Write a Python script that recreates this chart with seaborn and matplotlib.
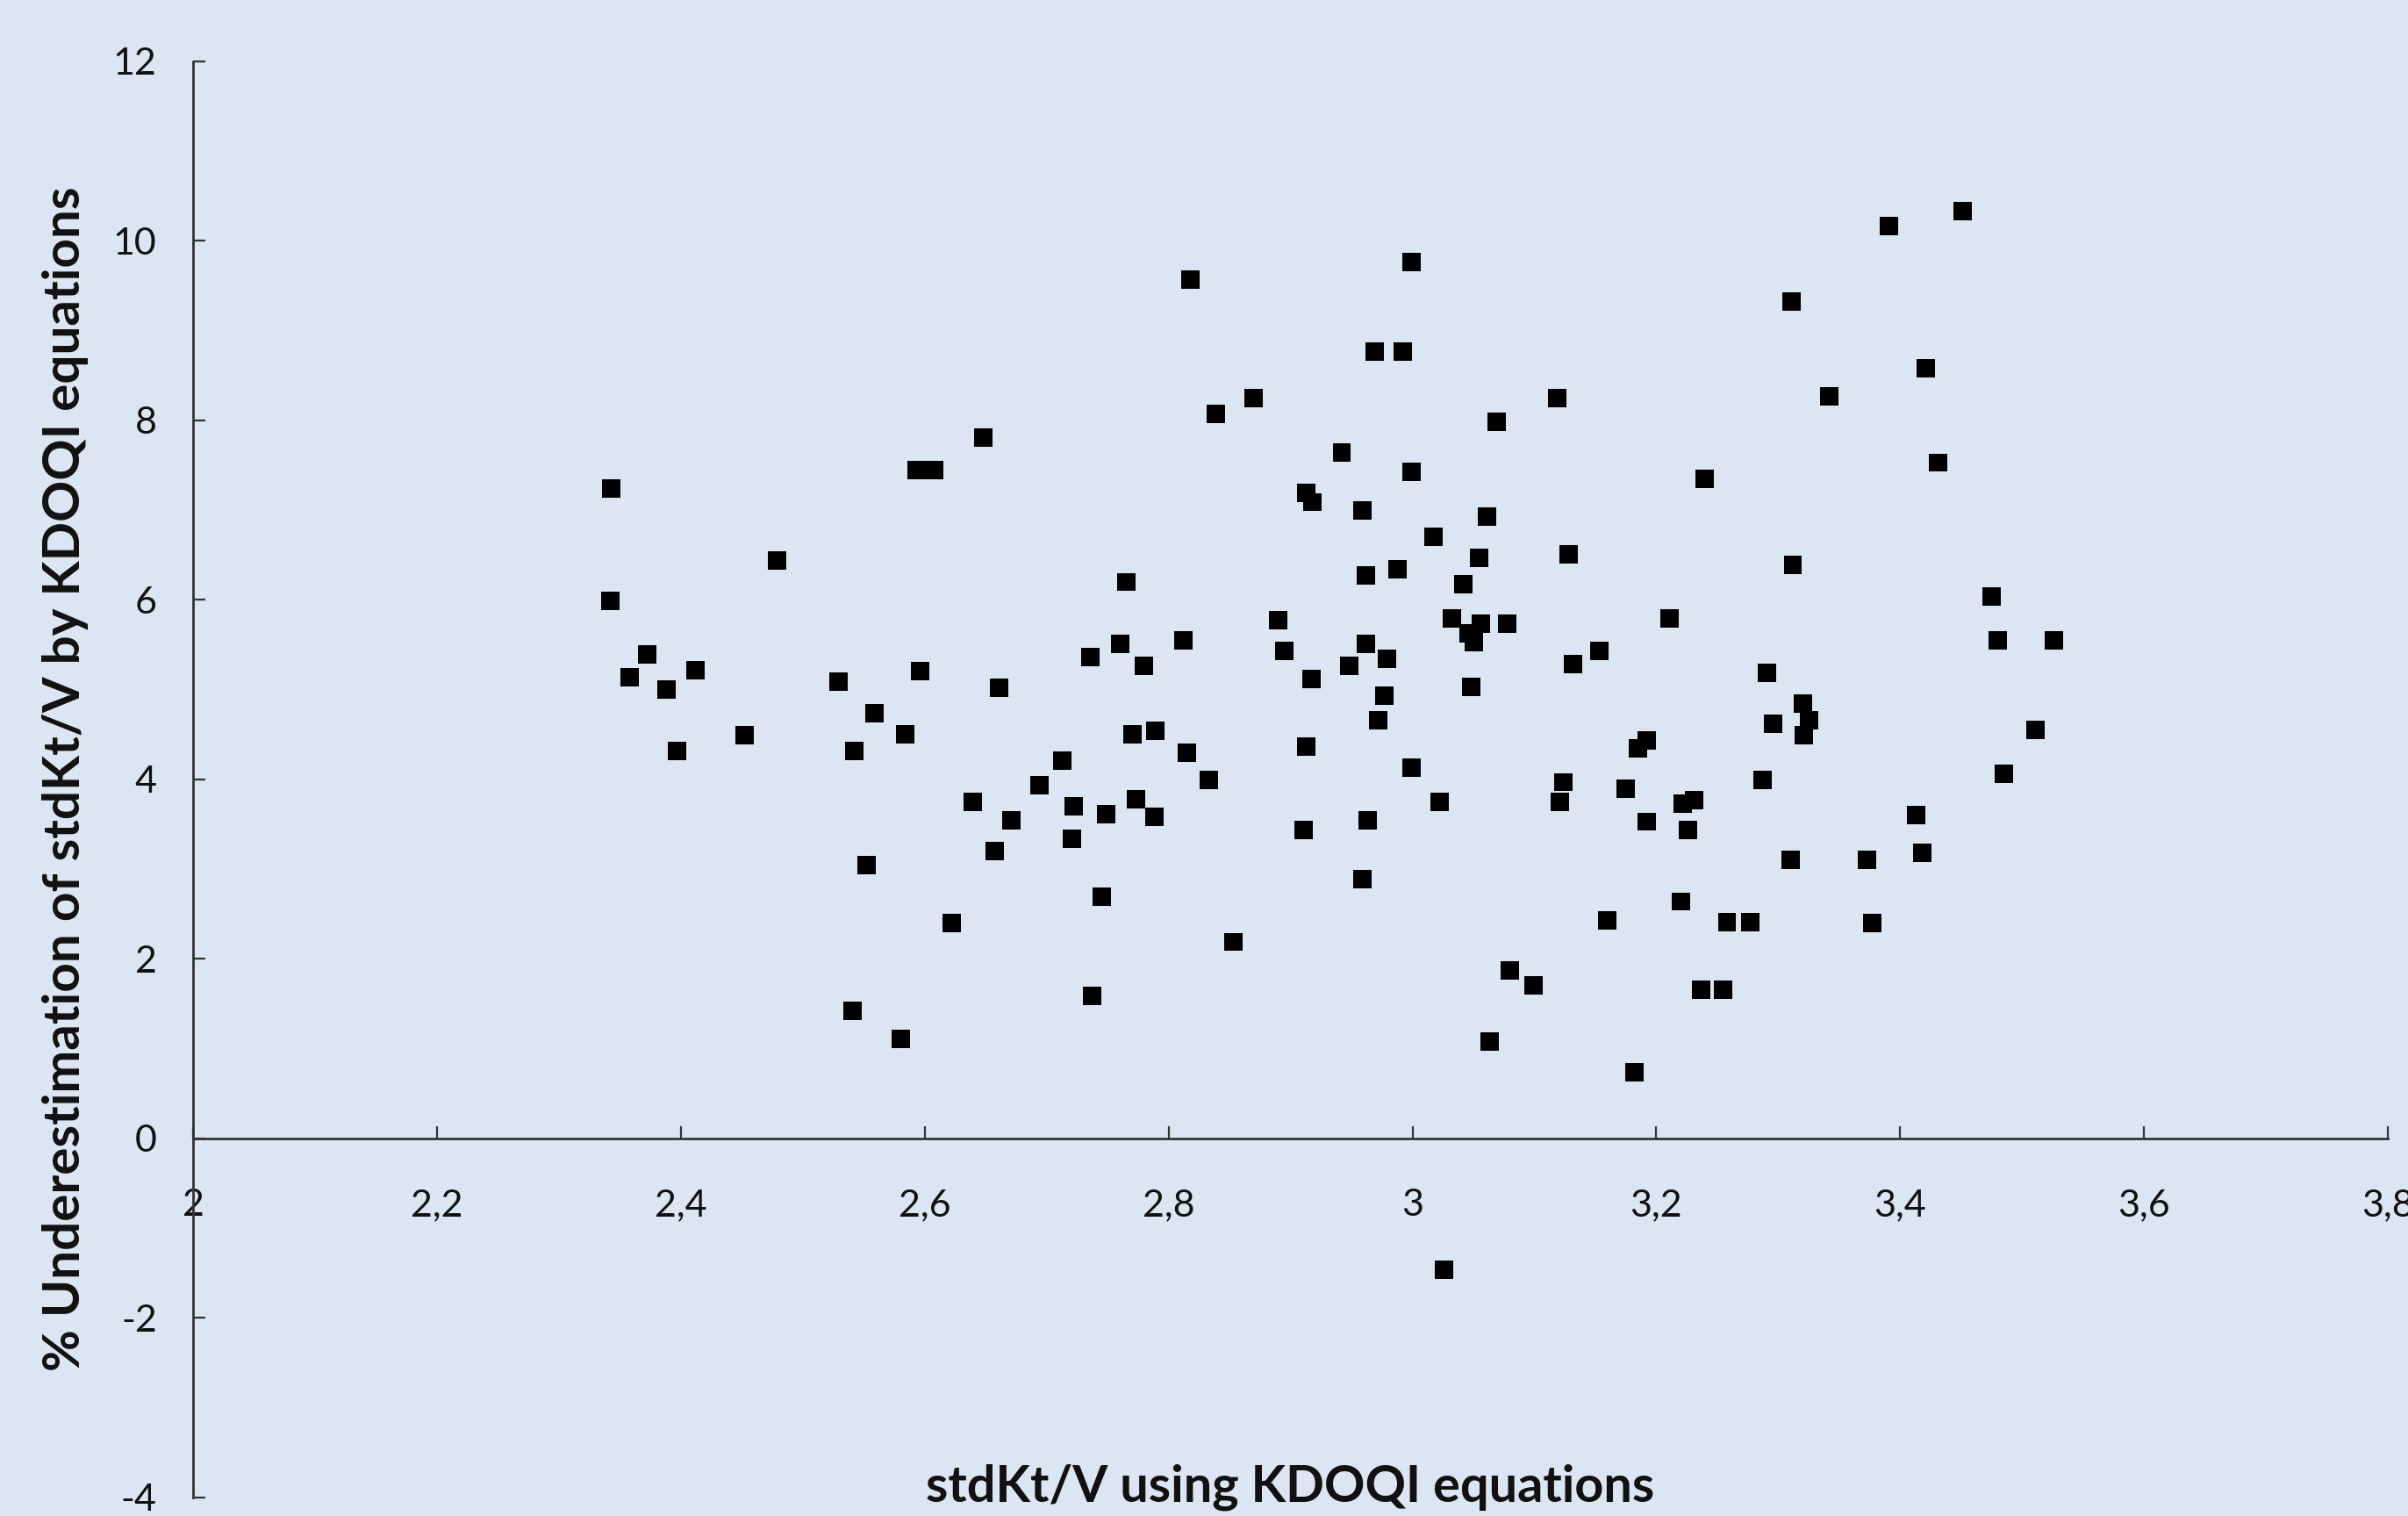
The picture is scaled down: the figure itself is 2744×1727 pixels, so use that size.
import numpy as np
import matplotlib.pyplot as plt
import seaborn as sns
from matplotlib.ticker import FuncFormatter

# values
stdktv = [2.343, 2.342, 2.358, 2.372, 2.388, 2.397, 2.412, 2.452, 2.479, 2.529,
          2.542, 2.541, 2.552, 2.559, 2.580, 2.584, 2.593, 2.608, 2.596, 2.622,
          2.639, 2.648, 2.657, 2.661, 2.671, 2.694, 2.713, 2.721, 2.722, 2.736,
          2.737, 2.745, 2.749, 2.760, 2.765, 2.770, 2.773, 2.780, 2.788, 2.789,
          2.812, 2.815, 2.818, 2.833, 2.839, 2.853, 2.870, 2.890, 2.895, 2.911,
          2.913, 2.913, 2.918, 2.917, 2.942, 2.948, 2.959, 2.959, 2.962, 2.962,
          2.963, 2.969, 2.972, 2.979, 2.977, 2.992, 2.988, 2.999, 2.999, 2.999,
          3.017, 3.022, 3.026, 3.032, 3.042, 3.046, 3.050, 3.048, 3.055, 3.056,
          3.061, 3.063, 3.069, 3.078, 3.080, 3.099, 3.119, 3.121, 3.124, 3.128,
          3.132, 3.153, 3.160, 3.175, 3.182, 3.185, 3.192, 3.192, 3.211, 3.220,
          3.222, 3.226, 3.231, 3.237, 3.240, 3.255, 3.258, 3.277, 3.287, 3.291,
          3.296, 3.310, 3.311, 3.312, 3.320, 3.321, 3.325, 3.342, 3.373, 3.377,
          3.391, 3.413, 3.418, 3.421, 3.431, 3.451, 3.475, 3.480, 3.485, 3.511,
          3.526]
underest = [7.24, 5.99, 5.14, 5.39, 5.00, 4.32, 5.22, 4.49, 6.44, 5.09,
            4.32, 1.42, 3.05, 4.74, 1.11, 4.50, 7.45, 7.45, 5.21, 2.40,
            3.75, 7.81, 3.20, 5.02, 3.54, 3.94, 4.21, 3.34, 3.70, 5.36,
            1.59, 2.69, 3.61, 5.51, 6.20, 4.50, 3.78, 5.27, 3.58, 4.54,
            5.55, 4.30, 9.57, 3.99, 8.07, 2.19, 8.25, 5.77, 5.43, 3.44,
            4.37, 7.19, 7.09, 5.12, 7.64, 5.27, 7.00, 2.89, 6.27, 5.51,
            3.54, 8.77, 4.66, 5.34, 4.93, 8.77, 6.34, 9.76, 7.43, 4.13,
            6.70, 3.75, -1.46, 5.79, 6.18, 5.63, 5.53, 5.03, 6.47, 5.74,
            6.93, 1.08, 7.98, 5.74, 1.87, 1.71, 8.25, 3.75, 3.97, 6.51,
            5.29, 5.43, 2.43, 3.90, 0.74, 4.35, 4.43, 3.53, 5.79, 2.64,
            3.73, 3.44, 3.77, 1.66, 7.35, 1.66, 2.41, 2.41, 3.99, 5.19,
            4.62, 3.10, 9.32, 6.39, 4.85, 4.49, 4.66, 8.27, 3.10, 2.40,
            10.17, 3.60, 3.18, 8.58, 7.53, 10.33, 6.04, 5.55, 4.06, 4.55,
            5.55]

x_ticks = [2.0, 2.2, 2.4, 2.6, 2.8, 3.0, 3.2, 3.4, 3.6, 3.8]
y_ticks = [-4, -2, 0, 2, 4, 6, 8, 10, 12]
x_title = "stdKt/V using KDOQI equations"
y_title = "% Underestimation of stdKt/V by KDOQI equations"

bg = '#DCE6F2'
sns.set_style('ticks')
plt.rcParams['font.family'] = ['Lato', 'DejaVu Sans']

fig = plt.figure(figsize=(27.44, 17.27), dpi=100, facecolor=bg)
ax = fig.add_axes([0.0803, 0.0122, 0.9113, 0.9473])
ax.set_facecolor(bg)

sns.scatterplot(x=stdktv, y=underest, marker='s', s=228, color='black',
                edgecolor='none', linewidth=0, ax=ax, legend=False)

ax.set_xlim(2, 3.8)
ax.set_ylim(-4, 12)
ax.set_xticks(x_ticks)
ax.set_yticks(y_ticks)
comma = FuncFormatter(lambda v, p: f'{v:g}'.replace('.', ','))
ax.xaxis.set_major_formatter(comma)
ax.yaxis.set_major_formatter(comma)

ax.spines['bottom'].set_position(('data', 0))
ax.spines[['top', 'right']].set_visible(False)
for side in ['left', 'bottom']:
    ax.spines[side].set_linewidth(2)
    ax.spines[side].set_color('#333333')
ax.tick_params(direction='in', length=10, width=1.6, color='#333333',
               labelcolor='#111111', labelsize=31)
ax.tick_params(axis='x', pad=41)
ax.tick_params(axis='y', pad=30)
ax.set_xlabel('')
ax.set_ylabel('')

fig.text(0.5357, 0.019, x_title, ha='center', va='center',
         fontsize=41.5, fontweight='bold', color='#111111')
fig.text(0.0270, 0.486, y_title, ha='center', va='center', rotation=90,
         fontsize=42, fontweight='bold', color='#111111')

fig.savefig('out.png', dpi=100, facecolor=bg)
